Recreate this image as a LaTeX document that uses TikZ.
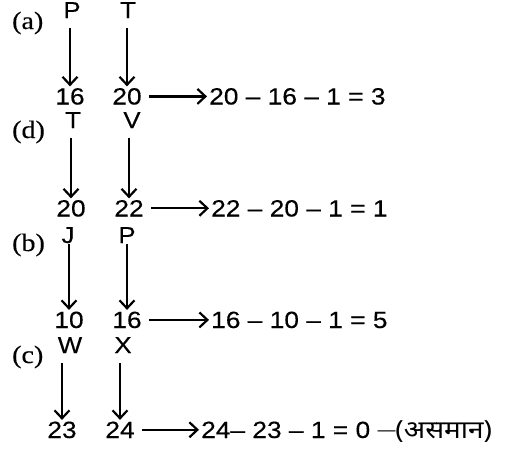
\documentclass[tikz,border=0pt]{standalone}
\usepackage{fontspec}
\setmainfont[FakeStretch=1.12,FakeBold=0.3]{Liberation Sans}
\newfontfamily\labelfont[FakeStretch=1.12,FakeBold=0.3]{Liberation Serif}
\newfontfamily\devafont[Script=Devanagari,FakeStretch=1.12]{Noto Sans}
\usetikzlibrary{arrows.meta}
\begin{document}
\begin{tikzpicture}[x=1pt,y=-1pt,
 lbl/.style={font=\labelfont\fontsize{25}{25}\selectfont, inner sep=0pt, anchor=base west},
 ltr/.style={font=\fontsize{23}{23}\selectfont, inner sep=0pt, anchor=base},
 num/.style={font=\fontsize{23.5}{23.5}\selectfont, inner sep=0pt, anchor=base},
 eqn/.style={font=\fontsize{23.5}{23.5}\selectfont, inner sep=0pt, anchor=base west},
 arr/.style={line width=2.2pt, -{Straight Barb[length=8pt,width=15pt]}},
 vin/.style={arr, shorten <=10pt, shorten >=1.5pt},
 hin/.style={arr, shorten <=7pt, shorten >=2pt}]
\useasboundingbox (0,0) rectangle (506,450);
% block (a)
\node[lbl] (la) at (12,29) {(a)};
\node[ltr] (a1) at (72,18) {P};
\node[ltr] (a2) at (128,18) {T};
\node[num] (an1) at (70,104.5) {16};
\node[num] (an2) at (127,104.5) {20};
\node[eqn] (ae) at (209,104.5) {20 – 16 – 1 = 3};
\draw[vin] (a1.south -| an1.north) -- (an1.north);
\draw[vin] (a2.south -| an2.north) -- (an2.north);
\draw[hin] (an2.east) -- (an2.east -| ae.west);
% block (d)
\node[lbl] (ld) at (12,138) {(d)};
\node[ltr] (d1) at (73,128) {T};
\node[ltr] (d2) at (132,128) {V};
\node[num] (dn1) at (71,216.5) {20};
\node[num] (dn2) at (129,216.5) {22};
\node[eqn] (de) at (211,216.5) {22 – 20 – 1 = 1};
\draw[vin] (d1.south -| dn1.north) -- (dn1.north);
\draw[vin] (d2.south -| dn2.north) -- (dn2.north);
\draw[hin] (dn2.east) -- (dn2.east -| de.west);
% block (b)
\node[lbl] (lb) at (12,251) {(b)};
\node[ltr] (b1) at (68,243) {J};
\node[ltr] (b2) at (127,243) {P};
\node[num] (bn1) at (69,328) {10};
\node[num] (bn2) at (127,328) {16};
\node[eqn] (be) at (211,328) {16 – 10 – 1 = 5};
\draw[vin, shorten <=1pt] (b1.south -| bn1.north) -- (bn1.north);
\draw[vin, shorten <=1pt] (b2.south -| bn2.north) -- (bn2.north);
\draw[hin] (bn2.east) -- (bn2.east -| be.west);
% block (c)
\node[lbl] (lc) at (12,363) {(c)};
\node[ltr] (c1) at (70,353) {W};
\node[ltr] (c2) at (123,353) {X};
\node[num] (cn1) at (62,438) {23};
\node[num] (cn2) at (120,438) {24};
\node[eqn] (ce) at (201,438) {24– 23 – 1 = 0 \raisebox{3pt}{\fontsize{16}{16}\selectfont —}{\devafont\fontsize{25}{25}\selectfont(असमान)}};
\draw[vin] (c1.south -| cn1.north) -- (cn1.north);
\draw[vin] (c2.south -| cn2.north) -- (cn2.north);
\draw[hin] (cn2.east) -- (cn2.east -| ce.west);
\end{tikzpicture}
\end{document}
